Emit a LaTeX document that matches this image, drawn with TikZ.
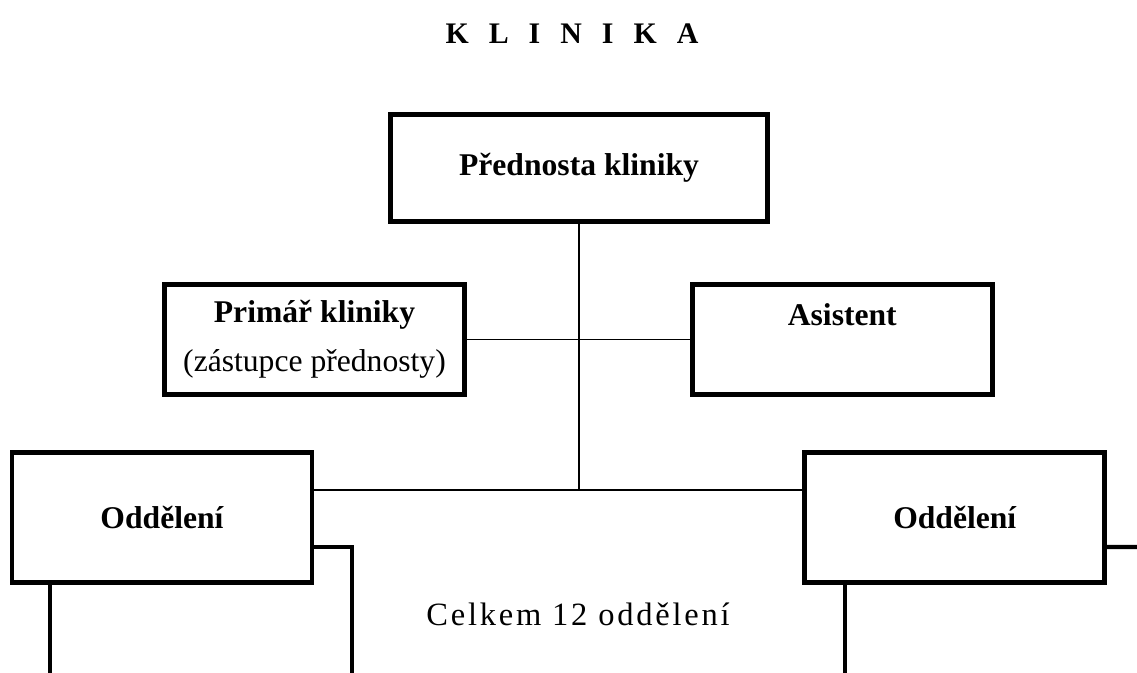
\documentclass[tikz,border=0pt]{standalone}
\usepackage{fontspec}
\setmainfont{Liberation Serif}
\usepackage{tikz}
\usetikzlibrary{calc}
\usetikzlibrary{positioning}
\tikzstyle{box_style}=[draw, line width=2.8pt, anchor=center, text centered,
font=\fontsize{18}{28}\selectfont\bfseries]
\tikzstyle{diagram_big}=[box_style, minimum width=7.54cm, minimum height=2.14cm]
\tikzstyle{diagram0}=[box_style, minimum width=6cm, minimum height=2.2cm]
\tikzstyle{oddeleni}=[diagram0, minimum height=2.6cm]
\tikzstyle{line}=[line width=1.1pt]
\tikzstyle{thickline}=[line width=2.3pt]

\begin{document}
\begin{tikzpicture}[x=0.02cm, y=-0.02cm]
		\useasboundingbox (0,0) rectangle (1137,673) ;

		\node[anchor=base, font=\fontsize{17}{20}\selectfont\bfseries] (title) at (572,43) {\spaceskip=0.67em K L I N I K A} ;

		\node[diagram_big] (pred) at (579,168) {Přednosta kliniky} ;

		\node[diagram0, align=center] (prim) at (314.5,339.5) {Primář kliniky\\\mdseries(zástupce přednosty)} ;
		\node[diagram0, align=center, right=4.46cm of prim] (asist) {Asistent\\\mbox{}} ;
		\draw[line] (prim) -- (asist) ;

		\node[oddeleni] (oddL) at (162,517.5) {Oddělení} ;
		\node[oddeleni, right=9.76cm of oddL] (oddR) {Oddělení} ;

		\coordinate (hub) at (579,490) ;
		\draw[line] (pred) -- (hub) ;
		\draw[line] (oddL.east |- hub) -- (oddR.west |- hub) ;

		% schody k dalsim oddelenim
		\coordinate (endL) at (352,673) ;
		\coordinate (legL) at (50,673) ;
		\draw[thickline] ($(oddL.east)+(0,29.5)$) -| (endL) ;
		\draw[thickline] (oddL.south -| legL) -- (legL) ;

		\coordinate (endR) at (1137,547) ;
		\coordinate (legR) at (845,673) ;
		\draw[thickline] ($(oddR.east)+(0,29.5)$) -- (endR) ;
		\draw[thickline] (oddR.south -| legR) -- (legR) ;

		\node[anchor=base, font=\fontsize{18.5}{22}\selectfont\addfontfeature{LetterSpace=8.5}] (celkem) at (578,625) {Celkem 12 oddělení} ;
	\end{tikzpicture}
\end{document}
